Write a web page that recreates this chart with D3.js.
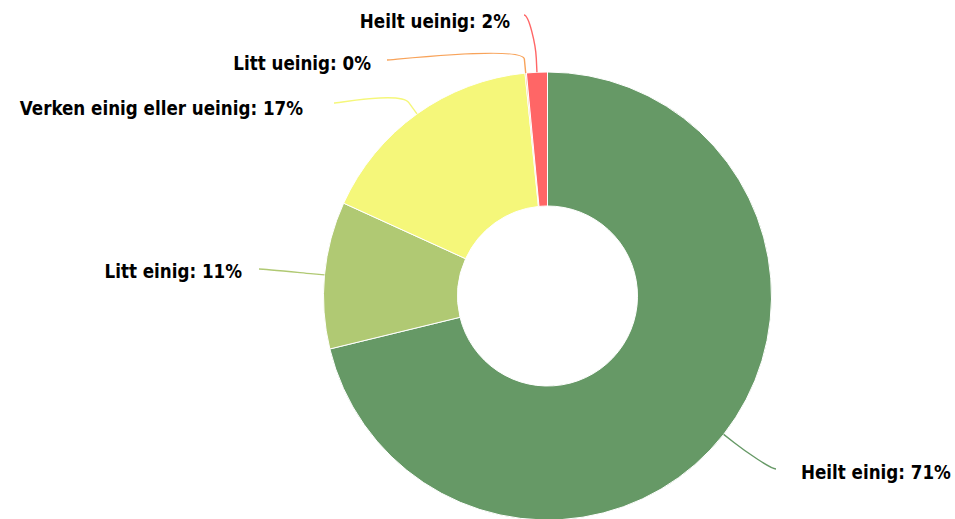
<!DOCTYPE html><html><head><meta charset="utf-8"><script src="https://cdn.jsdelivr.net/npm/d3@7"></script>
<style>body{margin:0;background:#fff}</style></head><body><svg width="955" height="519"></svg><script>
// Data
const categories = ["Heilt einig", "Litt einig", "Verken einig eller ueinig", "Litt ueinig", "Heilt ueinig"];
const values = [71.2, 10.6, 16.6, 0.1, 1.5];
const colors = ["#669966", "#b0c973", "#f5f77a", "#f8a35a", "#ff6666"];
// Label layout: connector start (lx,ly), text anchor (tx,ty), side
const labelLayout = [
  {lx: 776, ly: 469, tx: 801, ty: 479, side: "right"},
  {lx: 259, ly: 269, tx: 242, ty: 278, side: "left"},
  {lx: 334, ly: 103, tx: 303, ty: 115, side: "left"},
  {lx: 387, ly: 60,  tx: 371, ty: 70,  side: "left"},
  {lx: 524, ly: 15,  tx: 510, ty: 27.5, side: "left"}
];

const svg = d3.select("svg");
const cx = 547.5, cy = 296, R = 224, r0 = 90, breakOff = 14;

const data = categories.map((c, i) => ({name: c, value: values[i], color: colors[i], layout: labelLayout[i]}));
const pie = d3.pie().sort(null).value(d => d.value);
const arcs = pie(data);
const arc = d3.arc().innerRadius(r0).outerRadius(R);

const g = svg.append("g").attr("transform", `translate(${cx},${cy})`);
g.selectAll("path.slice").data(arcs).join("path")
  .attr("class", "slice")
  .attr("d", arc)
  .attr("fill", d => d.data.color)
  .attr("stroke", "#ffffff")
  .attr("stroke-width", 1)
  .attr("stroke-linejoin", "round");

// connectors
function pt(angle, rad) { return [cx + rad * Math.sin(angle), cy - rad * Math.cos(angle)]; }
svg.selectAll("path.conn").data(arcs).join("path")
  .attr("class", "conn")
  .attr("fill", "none")
  .attr("stroke", d => d.data.color)
  .attr("stroke-width", 1.4)
  .attr("d", d => {
    const mid = (d.startAngle + d.endAngle) / 2;
    const t = pt(mid, R), b = pt(mid, R + breakOff);
    const L = d.data.layout;
    const c1x = L.lx + (L.side === "right" ? -5 : 5);
    const p = d3.path();
    p.moveTo(L.lx, L.ly);
    p.bezierCurveTo(c1x, L.ly, 2 * b[0] - t[0], 2 * b[1] - t[1], b[0], b[1]);
    p.lineTo(t[0], t[1]);
    return p.toString();
  });

const total = d3.sum(values);
svg.selectAll("text.lbl").data(arcs).join("text")
  .attr("class", "lbl")
  .attr("x", d => d.data.layout.tx)
  .attr("y", d => d.data.layout.ty)
  .attr("text-anchor", d => d.data.layout.side === "right" ? "start" : "end")
  .style("font-family", "'DejaVu Sans Condensed', 'DejaVu Sans', sans-serif")
  .style("font-weight", "bold")
  .style("font-size", "18.6px")
  .style("fill", "#000000")
  .text(d => `${d.data.name}: ${Math.round(d.data.value / total * 100)}%`);
</script></body></html>
